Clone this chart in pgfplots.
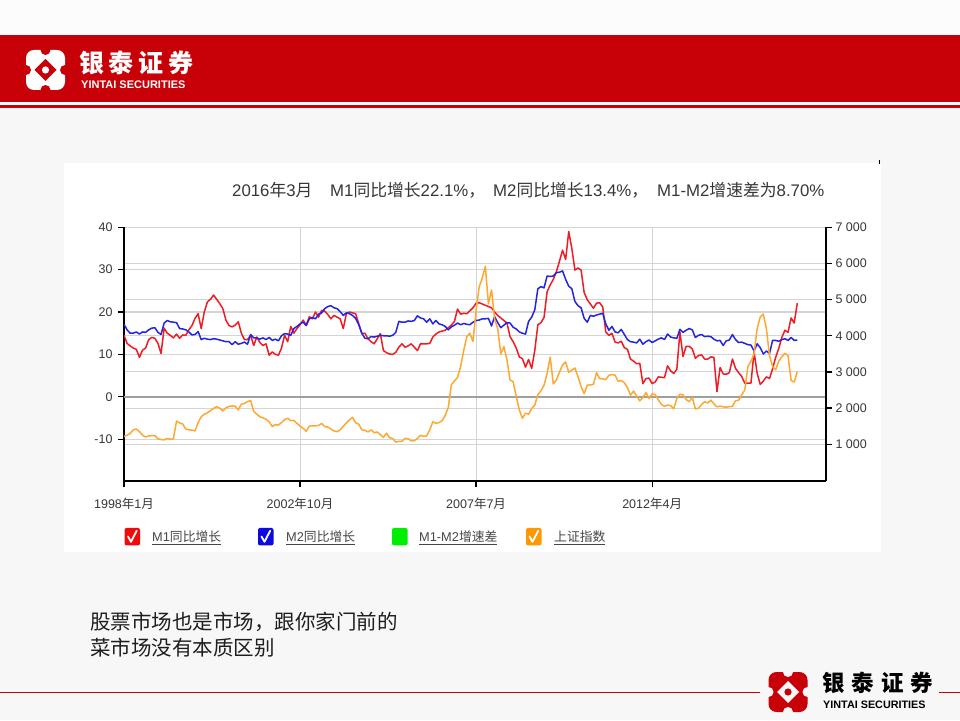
\documentclass[border=0pt]{standalone}
\usepackage{pgfplots}
\pgfplotsset{compat=1.18}
\usepackage{pgfplotstable}
\usepackage{fontspec}
\setmainfont{Liberation Sans}
\newfontfamily\cjk{Noto Sans CJK SC}
\newcommand\zh[1]{{\cjk #1}}
\definecolor{slidebg}{RGB}{247,247,247}
\definecolor{bandred}{RGB}{200,0,8}
\definecolor{mred}{RGB}{238,28,36}
\definecolor{mblue}{RGB}{36,36,228}
\definecolor{morange}{RGB}{255,168,48}
\definecolor{lred}{RGB}{242,10,10}
\definecolor{lblue}{RGB}{10,10,225}
\definecolor{lgreen}{RGB}{0,238,0}
\definecolor{lorange}{RGB}{255,152,0}
\definecolor{gridc}{RGB}{212,212,212}
\definecolor{txt}{RGB}{55,55,55}

\pgfplotstableread{
i m1 m2 sse
0 14.5 17.1 1212
1 12.6 15.8 1250
2 12.0 15.0 1300
3 11.5 15.0 1400
4 11.2 15.3 1420
5 9.3 14.8 1350
6 11.0 15.3 1250
7 11.5 15.2 1200
8 13.5 15.8 1230
9 14.0 16.2 1240
10 13.8 16.3 1240
11 12.6 15.2 1150
12 10.2 14.7 1130
13 16.2 17.4 1120
14 15.0 18.0 1160
15 14.5 17.7 1140
16 13.9 17.6 1150
17 14.8 17.5 1640
18 13.8 16.1 1590
19 14.6 16.0 1560
20 14.5 15.8 1420
21 15.8 15.3 1400
22 16.8 14.6 1390
23 18.5 14.7 1367
24 19.6 15.4 1600
25 16.1 13.5 1760
26 20.0 13.8 1830
27 22.4 13.6 1870
28 23.0 13.5 1930
29 24.0 13.7 1990
30 23.0 13.6 2040
31 22.0 13.4 2000
32 20.8 13.2 1920
33 18.1 13.0 2010
34 16.8 13.0 2045
35 16.5 12.3 2060
36 16.9 13.0 2050
37 17.7 12.4 1950
38 15.0 12.6 2110
39 13.5 12.9 2130
40 13.5 12.4 2180
41 14.5 14.7 2210
42 12.1 13.9 1910
43 14.1 13.9 1830
44 12.8 13.6 1760
45 12.1 13.9 1730
46 12.5 13.5 1690
47 9.8 14.0 1620
48 10.6 13.3 1490
49 10.0 13.6 1540
50 9.8 13.2 1530
51 11.5 14.4 1600
52 14.5 14.9 1680
53 13.0 14.8 1720
54 16.6 14.5 1650
55 15.0 16.1 1660
56 16.1 16.6 1580
57 17.0 17.2 1500
58 18.1 17.6 1440
59 16.9 16.8 1360
60 18.9 18.4 1499
61 18.4 18.7 1511
62 20.0 18.4 1510
63 18.8 19.5 1521
64 20.4 19.8 1576
65 20.2 20.8 1487
66 19.4 21.3 1477
67 18.4 21.5 1421
68 19.2 21.0 1367
69 18.8 20.8 1348
70 18.4 20.1 1397
71 16.1 19.2 1497
72 19.6 19.8 1590
73 20.0 19.6 1675
74 19.8 19.2 1742
75 19.6 18.5 1595
76 17.3 17.0 1555
77 14.9 15.0 1400
78 15.0 13.8 1386
79 13.7 13.7 1342
80 13.0 14.2 1396
81 12.5 14.1 1320
82 13.7 14.3 1340
83 14.9 14.5 1266
84 10.9 14.4 1191
85 10.4 14.4 1306
86 10.1 14.3 1181
87 10.0 14.5 1159
88 10.5 15.2 1060
89 11.7 17.8 1080
90 12.5 17.6 1083
91 11.7 17.6 1162
92 12.0 17.9 1155
93 12.5 17.8 1092
94 11.7 18.0 1099
95 10.9 19.1 1161
96 12.5 18.6 1250
97 12.5 18.4 1220
98 12.5 17.6 1230
99 12.6 18.4 1400
100 14.1 17.2 1620
101 14.8 18.0 1580
102 15.3 17.2 1600
103 15.5 17.0 1650
104 15.7 16.6 1800
105 16.3 15.8 2013
106 16.9 16.5 2650
107 17.8 16.9 2750
108 20.7 17.4 2850
109 19.5 17.0 3150
110 19.7 17.3 3600
111 19.6 17.1 3980
112 20.3 17.0 4070
113 21.0 17.6 3840
114 22.1 18.0 4700
115 22.2 18.1 5350
116 21.9 18.4 5600
117 21.6 18.4 5920
118 21.3 18.5 4880
119 21.0 16.7 5270
120 20.0 18.9 4450
121 19.2 17.5 4200
122 18.6 16.3 3500
123 18.0 16.9 3700
124 17.4 17.5 3330
125 14.2 17.4 2780
126 13.0 16.4 2730
127 11.5 16.0 2320
128 9.4 15.3 1950
129 9.0 15.0 1720
130 7.0 14.8 1860
131 8.8 17.8 1830
132 6.7 18.8 1991
133 10.9 20.5 2082
134 17.0 25.5 2373
135 17.5 26.0 2477
136 18.7 25.7 2633
137 24.8 28.5 2959
138 26.4 28.4 3412
139 27.7 28.5 2668
140 29.5 29.3 2779
141 32.0 29.4 2996
142 34.6 29.7 3195
143 32.4 27.7 3277
144 39.0 26.1 2989
145 35.0 25.5 3051
146 29.9 22.5 3110
147 30.4 21.5 2871
148 29.9 21.0 2592
149 24.6 18.5 2398
150 22.9 17.6 2638
151 21.9 19.2 2639
152 20.9 19.0 2656
153 22.1 19.3 2979
154 22.2 19.5 2820
155 21.2 19.7 2808
156 15.3 17.2 2790
157 14.5 15.7 2905
158 15.0 16.6 2928
159 12.9 15.3 2911
160 12.7 15.1 2743
161 13.1 15.9 2762
162 11.6 14.7 2701
163 11.2 13.5 2567
164 8.9 13.0 2359
165 8.4 12.9 2468
166 7.8 12.7 2333
167 7.9 13.6 2199
168 3.1 12.4 2292
169 4.3 13.0 2428
170 4.4 13.4 2263
171 3.1 12.8 2396
172 3.5 13.2 2373
173 4.7 13.6 2225
174 4.6 13.9 2103
175 4.5 13.5 2047
176 7.3 14.8 2086
177 6.1 14.1 2069
178 5.5 13.9 1980
179 6.5 13.8 2269
180 15.3 15.9 2385
181 9.5 15.2 2366
182 11.9 15.7 2237
183 11.9 16.1 2178
184 11.3 15.8 2301
185 9.1 14.0 1979
186 9.7 14.5 1994
187 9.9 14.7 2098
188 8.9 14.2 2175
189 8.9 14.3 2142
190 9.4 14.2 2221
191 9.3 13.6 2116
192 1.2 13.2 2033
193 6.9 13.3 2056
194 5.4 12.1 2033
195 5.3 13.2 2026
196 5.7 13.4 2039
197 8.9 14.7 2048
198 6.7 13.5 2202
199 5.7 12.8 2217
200 4.8 12.9 2364
201 3.2 12.6 2500
202 3.2 12.3 3150
203 3.2 12.2 3290
204 10.6 10.8 3500
205 5.6 12.5 4200
206 2.9 11.6 4520
207 3.7 10.1 4600
208 4.7 10.8 4200
209 4.3 10.2 3450
210 6.6 13.3 3150
211 9.3 13.3 3060
212 11.4 13.1 3300
213 14.0 13.5 3420
214 15.7 13.7 3520
215 15.2 13.3 3450
216 18.6 14.0 2760
217 17.4 13.3 2720
218 22.1 13.4 3010
}\datatab

\newcommand\logoicon[4]{%
  \fill[#3, rounded corners=8pt] (#1-19.5,#2-20) rectangle (#1+19.5,#2+20);
  \fill[#4] (#1-11,#2) -- (#1,#2+11) -- (#1+11,#2) -- (#1,#2-11) -- cycle;
  \fill[#4] (#1-19.5,#2) circle (5);
  \fill[#4] (#1+19.5,#2) circle (5);
  \fill[#4] (#1,#2-20) circle (5);
  \fill[#4] (#1,#2+20) circle (5);
  \fill[#3] (#1,#2) circle (3.6);
}
\newcommand\chk[4]{% x y color checked
  \fill[#3, rounded corners=2pt] (#1,#2-8.5) rectangle (#1+15.5,#2+9);
  \ifnum#4=1
  \draw[white, line width=1.8pt, line cap=round, line join=round] (#1+3.5,#2+0.5) -- (#1+6.5,#2-4.8) -- (#1+12.2,#2+6.3);
  \fi
}

\begin{document}
\begin{tikzpicture}[x=1pt,y=1pt]
\useasboundingbox (0,0) rectangle (960,720);
\fill[slidebg] (0,0) rectangle (960,720);
\fill[white!60!slidebg] (0,685) rectangle (960,720);
\fill[bandred] (0,618) rectangle (960,685);
\fill[white] (0,615) rectangle (960,618);
\fill[bandred] (0,611.5) rectangle (960,615);
% top logo
\logoicon{45.5}{650}{white}{bandred}
\node[anchor=base west, inner sep=0pt, text=white] at (79,647) {\fontsize{25}{25}\selectfont\cjk\bfseries\makebox[114pt][s]{银\hfil 泰\hfil 证\hfil 券}};
\node[anchor=base west, inner sep=0pt, text=white] at (81,631.3) {\fontsize{11}{11}\selectfont\bfseries YINTAI SECURITIES};
% bottom logo and line
\fill[bandred] (0,27) rectangle (760,28.2);
\fill[bandred] (939,27) rectangle (960,28.2);
\logoicon{788}{28}{bandred}{slidebg}
\node[anchor=base west, inner sep=0pt, text=black] at (822,28.8) {\fontsize{22.5}{22.5}\selectfont\cjk\bfseries\makebox[111pt][s]{银\hfil 泰\hfil 证\hfil 券}};
\node[anchor=base west, inner sep=0pt, text=black] at (823,12) {\fontsize{10.8}{10.8}\selectfont\bfseries YINTAI SECURITIES};
% bottom text
\node[anchor=base west, inner sep=0pt, text={rgb,255:red,30;green,30;blue,30}] at (90,90.4) {\fontsize{20.5}{20.5}\selectfont\cjk 股票市场也是市场，跟你家门前的};
\node[anchor=base west, inner sep=0pt, text={rgb,255:red,30;green,30;blue,30}] at (90,64.4) {\fontsize{20.5}{20.5}\selectfont\cjk 菜市场没有本质区别};
% chart panel
\fill[white] (64,168) rectangle (881,557);
\draw[black, line width=0.8pt] (879,556) -- (879,560);
% title
\begin{scope}[every node/.style={anchor=base west, inner sep=0pt, text=txt, font=\fontsize{16.8}{16.8}\selectfont}]
\node at (232,523) {2016\zh{年}3\zh{月}};
\node at (330,523) {M1\zh{同比增长}22.1\%\zh{，}};
\node at (493,523) {M2\zh{同比增长}13.4\%\zh{，}};
\node at (657,523) {M1-M2\zh{增速差为}8.70\%};
\end{scope}
% right-scale grid only
\begin{axis}[scale only axis, width=702pt, height=254.2pt, at={(124pt,238.5pt)}, anchor=south west,
  xmin=0, xmax=227.3, ymin=-30, ymax=7000,
  axis line style={draw=none}, xtick=\empty, ytick={1000,2000,...,7000}, yticklabels={},
  major tick length=0pt, ymajorgrids, grid style={gridc, line width=1.1pt}]
\end{axis}
% left axis with M1 and M2
\begin{axis}[scale only axis, width=702pt, height=254.2pt, at={(124pt,238.5pt)}, anchor=south west,
  xmin=0, xmax=227.3, ymin=-20, ymax=40,
  axis x line*=bottom, axis y line*=left,
  axis line style={black, line width=2pt},
  tick align=outside, major tick length=6pt, tick style={black, line width=1.2pt},
  xtick={0,57,114,171},
  xticklabels={1998\zh{年}1\zh{月},2002\zh{年}10\zh{月},2007\zh{年}7\zh{月},2012\zh{年}4\zh{月}},
  ytick={-10,0,10,20,30,40}, yticklabels={-10,0,10,20,30,40},
  ticklabel style={font=\fontsize{12.5}{13}\selectfont, text=txt},
  xticklabel style={yshift=-7pt},
  yticklabel style={xshift=-2pt},
  xmajorgrids, ymajorgrids, grid style={gridc, line width=1.1pt},
  major x grid style={gridc, line width=0.8pt},
  extra y ticks={0}, extra y tick labels={},
  extra y tick style={grid style={gray!75, line width=1.7pt}},
  ]
\addplot[mred, line width=1.5pt, line join=round] table[x=i, y=m1] {\datatab};
\addplot[mblue, line width=1.5pt, line join=round] table[x=i, y=m2] {\datatab};
\end{axis}
% right axis with Shanghai index
\begin{axis}[scale only axis, width=702pt, height=254.2pt, at={(124pt,238.5pt)}, anchor=south west,
  xmin=0, xmax=227.3, ymin=-30, ymax=7000,
  axis x line=none, axis y line*=right,
  axis line style={black, line width=2pt},
  tick align=outside, major tick length=6pt, tick style={black, line width=1.2pt},
  xtick=\empty,
  ytick={1000,2000,...,7000}, yticklabels={1 000,2 000,3 000,4 000,5 000,6 000,7 000},
  ticklabel style={font=\fontsize{12.5}{13}\selectfont, text=txt},
  ]
\addplot[morange, line width=1.5pt, line join=round] table[x=i, y=sse] {\datatab};
\end{axis}
% legend
\begin{scope}[every node/.style={anchor=base west, inner sep=0pt, text={rgb,255:red,70;green,70;blue,70}, font=\fontsize{12.8}{12.8}\selectfont}]
\chk{124.5}{183}{lred}{1}
\node at (152,178.5) {\underline{M1\zh{同比增长}}};
\chk{258}{183}{lblue}{1}
\node at (286,178.5) {\underline{M2\zh{同比增长}}};
\chk{392}{183}{lgreen}{0}
\node at (419,178.5) {\underline{M1-M2\zh{增速差}}};
\chk{526}{183}{lorange}{1}
\node at (554,178.5) {\underline{\zh{上证指数}}};
\end{scope}
\end{tikzpicture}
\end{document}
